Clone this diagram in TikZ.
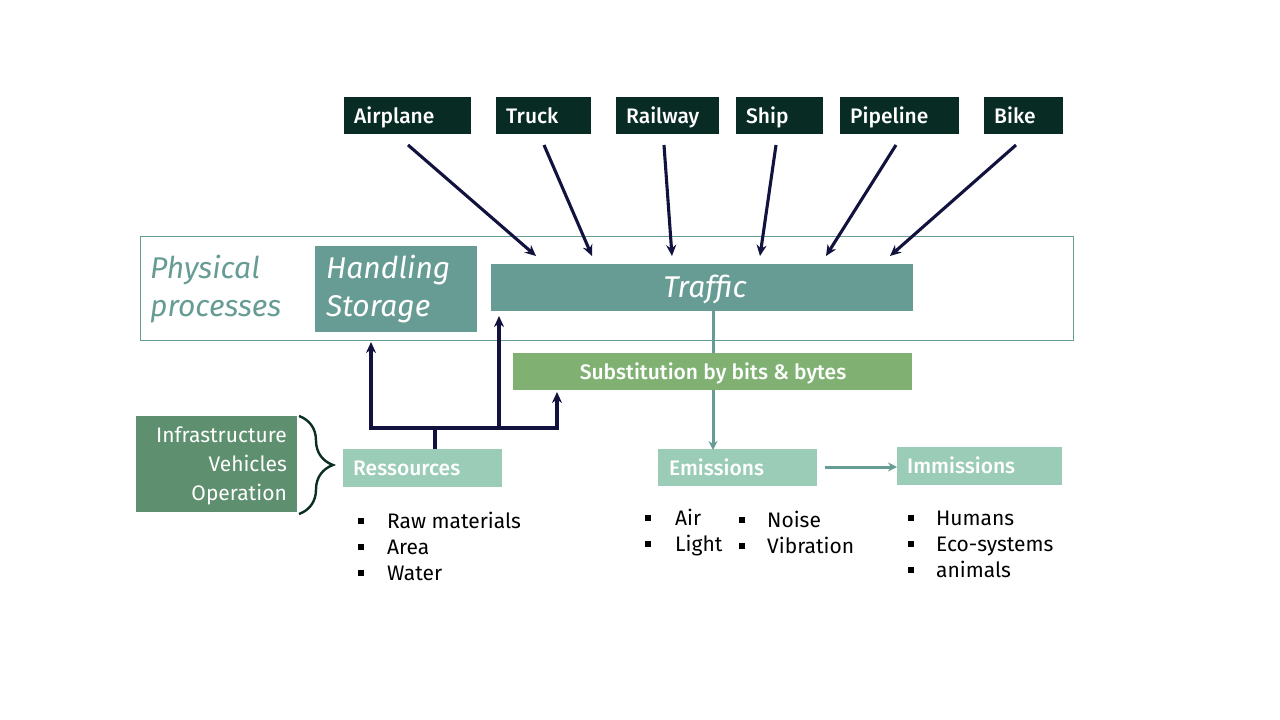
\documentclass[tikz,border=0pt]{standalone}
\usepackage{fontspec}
\setmainfont{Fira Sans}
\newfontfamily\firamed{Fira Sans Medium}
\usetikzlibrary{arrows.meta,decorations.pathreplacing}
\definecolor{darkbox}{HTML}{082B23}
\definecolor{navy}{HTML}{12123F}
\definecolor{teal}{HTML}{679C95}
\definecolor{subgreen}{HTML}{80B173}
\definecolor{lightbox}{HTML}{9BCCB8}
\definecolor{infra}{HTML}{5E9070}
\definecolor{bracecol}{HTML}{0B2E24}
\tikzset{
  boxfill/.style={anchor=north west, inner sep=0pt},
  lab/.style={anchor=base west, text=white, inner sep=0pt, font=\fontsize{21}{24}\selectfont\firamed},
  navyarrow/.style={draw=navy, line width=3.1pt, -{Stealth[length=11pt,width=10pt]}},
  tealarrow/.style={draw=teal, line width=3pt, -{Stealth[length=9pt,width=9pt]}},
  navyline/.style={draw=navy, line width=3.1pt},
  item/.style={anchor=base west, inner sep=0pt, font=\fontsize{21}{24}\selectfont, text=black},
}
\newcommand{\bul}{\rule[4pt]{6pt}{6pt}}
\begin{document}
\begin{tikzpicture}[x=1pt,y=-1pt]
\useasboundingbox (0,0) rectangle (1280,720);
% top modes
\node[boxfill, fill=darkbox, minimum width=127pt, minimum height=37pt] (air) at (344,97) {};
\node[lab] (airt) at (354,123) {Airplane};
\node[boxfill, fill=darkbox, minimum width=95pt, minimum height=37pt] (truck) at (496,97) {};
\node[lab] (truckt) at (506,123) {Truck};
\node[boxfill, fill=darkbox, minimum width=103pt, minimum height=37pt] (rail) at (616,97) {};
\node[lab] (railt) at (626,123) {Railway};
\node[boxfill, fill=darkbox, minimum width=87pt, minimum height=37pt] (ship) at (736,97) {};
\node[lab] (shipt) at (746,123) {Ship};
\node[boxfill, fill=darkbox, minimum width=119pt, minimum height=37pt] (pipe) at (840,97) {};
\node[lab] (pipet) at (850,123) {Pipeline};
\node[boxfill, fill=darkbox, minimum width=79pt, minimum height=37pt] (bike) at (984,97) {};
\node[lab] (biket) at (994,123) {Bike};

% outer frame
\node[boxfill, draw=teal, line width=0.8pt, minimum width=933pt, minimum height=104pt] (phys) at (140,236) {};
\node[anchor=base west, text=teal, font=\fontsize{30}{38}\selectfont\itshape, inner sep=0pt] (phys1) at (150,278) {Physical};
\node[anchor=base west, text=teal, font=\fontsize{30}{38}\selectfont\itshape, inner sep=0pt] (phys2) at (150,316) {processes};
\node[boxfill, fill=teal, minimum width=162pt, minimum height=86pt] (hand) at (315,246) {};
\node[anchor=base west, text=white, font=\fontsize{30}{38}\selectfont\itshape, inner sep=0pt] (hand1) at (326,278) {Handling};
\node[anchor=base west, text=white, font=\fontsize{30}{38}\selectfont\itshape, inner sep=0pt] (hand2) at (326,316) {Storage};
\node[boxfill, fill=teal, minimum width=422pt, minimum height=47pt] (traffic) at (491,264) {};
\node[anchor=base, text=white, font=\fontsize{30}{34}\selectfont\itshape, inner sep=0pt] (traffict) at (705,297) {Traffic};

% arrows from modes
\coordinate (a1s) at (408,145); \coordinate (a1e) at (536,256);
\coordinate (a2s) at (544,145); \coordinate (a2e) at (592,256);
\coordinate (a3s) at (664,145); \coordinate (a3e) at (672,256);
\coordinate (a4s) at (776,145); \coordinate (a4e) at (760,256);
\coordinate (a5s) at (896,145); \coordinate (a5e) at (826,256);
\coordinate (a6s) at (1016,145); \coordinate (a6e) at (890,256);
\draw[navyarrow] (a1s) -- (a1e);
\draw[navyarrow] (a2s) -- (a2e);
\draw[navyarrow] (a3s) -- (a3e);
\draw[navyarrow] (a4s) -- (a4e);
\draw[navyarrow] (a5s) -- (a5e);
\draw[navyarrow] (a6s) -- (a6e);

% emissions / immissions / ressources
\node[boxfill, fill=lightbox, minimum width=159pt, minimum height=37pt] (emi) at (658,449) {};
\node[lab] (emit) at (669,475) {Emissions};
\node[boxfill, fill=lightbox, minimum width=165pt, minimum height=38pt] (imm) at (897,447) {};
\node[lab] (immt) at (907,473) {Immissions};
\node[boxfill, fill=lightbox, minimum width=159pt, minimum height=38pt] (res) at (343,449) {};
\node[lab] (rest) at (353,475) {Ressources};

% traffic to emissions (behind substitution)
\coordinate (trb) at (713,311);
\draw[tealarrow] (trb) -- ([yshift=-1pt]emi.north -| trb);
\node[boxfill, fill=subgreen, minimum width=399pt, minimum height=37pt] (subst) at (513,353) {};
\node[anchor=base, text=white, inner sep=0pt, font=\fontsize{21}{24}\selectfont\firamed] (substt) at (713,379) {Substitution by bits \& bytes};
\coordinate (ee) at (825,467);
\draw[tealarrow] (ee) -- (imm.west |- ee);

% ressources tree
\coordinate (rj) at (435,428);
\coordinate (rl) at (371,428);
\coordinate (rm) at (499,428);
\coordinate (rr) at (557,428);
\coordinate (hl) at (371,342);
\coordinate (tl) at (499,316);
\coordinate (sl) at (557,392);
\draw[navyline] (res.north -| rj) -- (rj);
\draw[navyline, line cap=rect] (rl) -- (rr);
\draw[navyarrow] (rl) -- (hl);
\draw[navyarrow] (rm) -- (tl);
\draw[navyarrow] (rr) -- (sl);

% infrastructure box
\node[boxfill, fill=infra, minimum width=161pt, minimum height=96pt] (infra) at (136,416) {};
\node[anchor=base east, text=white, font=\fontsize{21}{24}\selectfont, inner sep=0pt] (inf1) at (287,442) {Infrastructure};
\node[anchor=base east, text=white, font=\fontsize{21}{24}\selectfont, inner sep=0pt] (inf2) at (287,471) {Vehicles};
\node[anchor=base east, text=white, font=\fontsize{21}{24}\selectfont, inner sep=0pt] (inf3) at (287,500) {Operation};
\draw[draw=bracecol, line width=2.4pt, decorate, decoration={brace, amplitude=34pt, aspect=0.5}] (299,416) -- (299,514);

% bullet lists
\node[item] (r1) at (358,528) {\makebox[29pt][l]{\bul}Raw materials};
\node[item] (r2) at (358,554) {\makebox[29pt][l]{\bul}Area};
\node[item] (r3) at (358,580) {\makebox[29pt][l]{\bul}Water};
\node[item] (e1) at (645,525) {\makebox[30pt][l]{\bul}Air};
\node[item] (e2) at (645,551) {\makebox[30pt][l]{\bul}Light};
\node[item] (e3) at (739,527) {\makebox[28pt][l]{\bul}Noise};
\node[item] (e4) at (739,553) {\makebox[28pt][l]{\bul}Vibration};
\node[item] (i1) at (908,525) {\makebox[28pt][l]{\bul}Humans};
\node[item] (i2) at (908,551) {\makebox[28pt][l]{\bul}Eco-systems};
\node[item] (i3) at (908,577) {\makebox[28pt][l]{\bul}animals};
\end{tikzpicture}
\end{document}
